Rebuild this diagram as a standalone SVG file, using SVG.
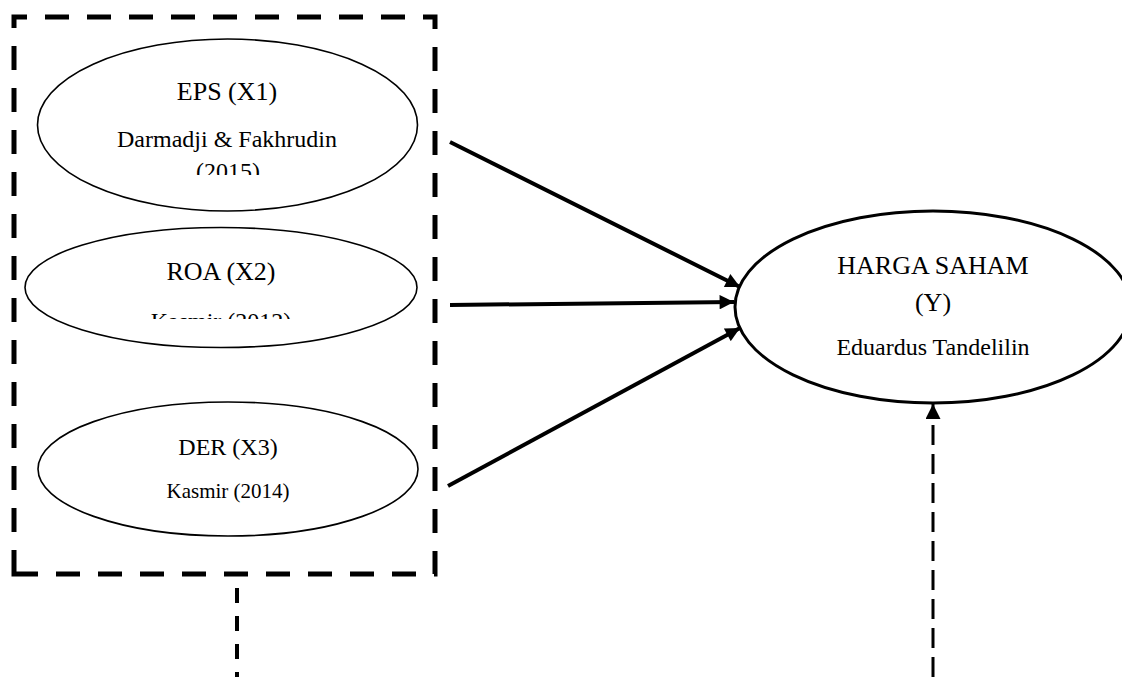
<svg xmlns="http://www.w3.org/2000/svg" width="1122" height="677" viewBox="0 0 1122 677">
<style>
  .ell { fill: #fff; stroke: #000; stroke-width: 1.6; }
  .big { fill: #fff; stroke: #000; stroke-width: 3; }
  .t { font-family: "Liberation Serif", "Times New Roman", serif; fill: #000; text-anchor: middle; }
  .conn { stroke: #000; stroke-width: 4; fill: none; }
</style>
<defs>
  <marker id="ah" viewBox="0 0 10 10" refX="10" refY="5" markerWidth="4" markerHeight="3.6" orient="auto" markerUnits="strokeWidth">
    <path d="M0,0 L10,5 L0,10 Z" fill="#000"/>
  </marker>
  <marker id="ah2" viewBox="0 0 10 10" refX="10" refY="5" markerWidth="5" markerHeight="5" orient="auto" markerUnits="strokeWidth">
    <path d="M0,0 L10,5 L0,10 Z" fill="#000"/>
  </marker>
  <clipPath id="c1"><rect x="40" y="40" width="380" height="135"/></clipPath>
  <clipPath id="c2"><rect x="30" y="230" width="380" height="89"/></clipPath>
</defs>
<g id="group-box">
  <path d="M14,574 L14,17 L435,17 L435,574 Z" fill="none" stroke="#000" stroke-width="5" stroke-dasharray="24 18"/>
</g>
<g id="node-eps">
  <ellipse class="ell" cx="227.5" cy="125" rx="190" ry="86"/>
  <g clip-path="url(#c1)">
    <text class="t" x="227" y="100" font-size="26">EPS (X1)</text>
    <text class="t" x="227" y="147" font-size="24">Darmadji &amp; Fakhrudin</text>
    <text class="t" x="228" y="179" font-size="24">(2015)</text>
  </g>
</g>
<g id="node-roa">
  <ellipse class="ell" cx="221" cy="287.5" rx="196" ry="60"/>
  <g clip-path="url(#c2)">
    <text class="t" x="221" y="280" font-size="26">ROA (X2)</text>
    <text class="t" x="221" y="329" font-size="24">Kasmir (2012)</text>
  </g>
</g>
<g id="node-der">
  <ellipse class="ell" cx="228" cy="469" rx="190" ry="67"/>
  <text class="t" x="228" y="455" font-size="24">DER (X3)</text>
  <text class="t" x="228" y="498" font-size="21">Kasmir (2014)</text>
</g>
<g id="node-harga">
  <ellipse class="big" cx="933" cy="307" rx="198" ry="96"/>
  <text class="t" x="933" y="274" font-size="26">HARGA SAHAM</text>
  <text class="t" x="933" y="311" font-size="26">(Y)</text>
  <text class="t" x="933" y="355" font-size="24">Eduardus Tandelilin</text>
</g>
<g id="connectors">
  <line class="conn" x1="450" y1="142" x2="740" y2="287" marker-end="url(#ah)"/>
  <line class="conn" x1="450" y1="305" x2="734" y2="302" marker-end="url(#ah)"/>
  <line class="conn" x1="448" y1="486" x2="740" y2="328" marker-end="url(#ah)"/>
  <line x1="237" y1="588" x2="237" y2="677" stroke="#000" stroke-width="4" stroke-dasharray="15 13"/>
  <line x1="933" y1="677" x2="933" y2="404" stroke="#000" stroke-width="3" stroke-dasharray="20 9" marker-end="url(#ah2)"/>
</g>
</svg>
